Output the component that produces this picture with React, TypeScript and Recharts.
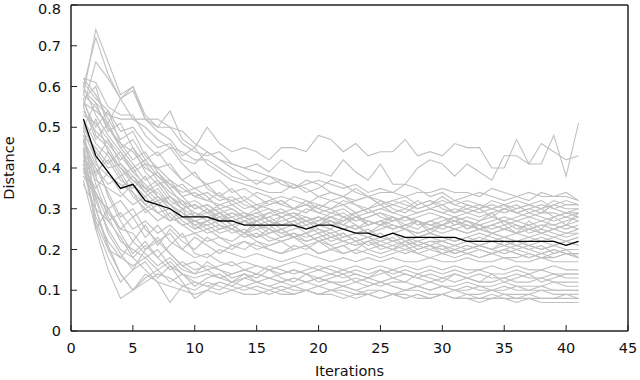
import { LineChart, Line, XAxis, YAxis } from 'recharts'

document.body.style.margin = '0'

const ITERATIONS = [
  1, 2, 3, 4, 5, 6, 7, 8, 9, 10, 11, 12, 13, 14, 15, 16, 17, 18, 19, 20,
  21, 22, 23, 24, 25, 26, 27, 28, 29, 30, 31, 32, 33, 34, 35, 36, 37, 38, 39, 40, 41,
]
const X_TICKS = [0, 5, 10, 15, 20, 25, 30, 35, 40, 45]
const Y_TICKS = [0, 0.1, 0.2, 0.3, 0.4, 0.5, 0.6, 0.7, 0.8]

// mean distance over all runs
const MEAN = [
  0.52, 0.43, 0.39, 0.35, 0.36, 0.32, 0.31, 0.30, 0.28, 0.28,
  0.28, 0.27, 0.27, 0.26, 0.26, 0.26, 0.26, 0.26, 0.25, 0.26,
  0.26, 0.25, 0.24, 0.24, 0.23, 0.24, 0.23, 0.23, 0.23, 0.23,
  0.23, 0.22, 0.22, 0.22, 0.22, 0.22, 0.22, 0.22, 0.22, 0.21, 0.22,
]

// individual runs (grey)
const RUNS: number[][] = [
  [0.58,0.74,0.66,0.58,0.60,0.53,0.50,0.54,0.47,0.45, 0.50,0.46,0.44,0.45,0.44,0.42,0.45,0.45,0.44,0.48, 0.47,0.44,0.46,0.43,0.44,0.44,0.47,0.43,0.44,0.43, 0.46,0.45,0.45,0.40,0.40,0.47,0.41,0.41,0.48,0.38,0.51],
  [0.55,0.66,0.62,0.57,0.59,0.52,0.52,0.50,0.49,0.46, 0.44,0.42,0.41,0.40,0.41,0.39,0.42,0.40,0.39,0.39, 0.38,0.42,0.39,0.37,0.41,0.36,0.36,0.40,0.42,0.41, 0.38,0.41,0.39,0.37,0.43,0.43,0.41,0.46,0.44,0.42,0.43],
  [0.60,0.72,0.63,0.57,0.52,0.50,0.47,0.45,0.44,0.42, 0.42,0.40,0.38,0.37,0.37,0.36,0.37,0.35,0.36,0.37, 0.36,0.35,0.36,0.34,0.35,0.34,0.33,0.34,0.34,0.35, 0.34,0.34,0.33,0.35,0.34,0.33,0.34,0.33,0.33,0.34,0.32],
  [0.62,0.61,0.55,0.53,0.53,0.48,0.45,0.46,0.42,0.41, 0.44,0.42,0.40,0.38,0.36,0.38,0.37,0.36,0.34,0.35, 0.37,0.36,0.34,0.33,0.34,0.34,0.36,0.35,0.33,0.34, 0.32,0.33,0.34,0.33,0.32,0.33,0.32,0.34,0.33,0.33,0.32],
  [0.56,0.54,0.51,0.57,0.60,0.52,0.49,0.47,0.43,0.45, 0.41,0.39,0.37,0.36,0.35,0.34,0.34,0.36,0.35,0.33, 0.34,0.33,0.32,0.33,0.31,0.32,0.33,0.31,0.32,0.31, 0.32,0.31,0.30,0.32,0.31,0.30,0.31,0.32,0.30,0.31,0.31],
  [0.50,0.56,0.53,0.52,0.52,0.52,0.50,0.50,0.46,0.44, 0.43,0.44,0.41,0.40,0.39,0.38,0.36,0.35,0.37,0.36, 0.34,0.33,0.35,0.33,0.32,0.31,0.32,0.30,0.31,0.33, 0.31,0.30,0.29,0.30,0.31,0.29,0.30,0.29,0.31,0.30,0.30],
  [0.58,0.55,0.50,0.46,0.44,0.40,0.38,0.36,0.33,0.34, 0.32,0.31,0.32,0.30,0.31,0.30,0.29,0.30,0.31,0.30, 0.29,0.30,0.28,0.29,0.30,0.29,0.28,0.29,0.30,0.29, 0.28,0.29,0.28,0.29,0.30,0.29,0.28,0.29,0.29,0.28,0.29],
  [0.54,0.49,0.46,0.42,0.45,0.39,0.36,0.37,0.33,0.30, 0.31,0.29,0.30,0.28,0.27,0.29,0.28,0.26,0.27,0.28, 0.27,0.26,0.28,0.27,0.26,0.27,0.28,0.27,0.26,0.26, 0.27,0.26,0.25,0.26,0.27,0.26,0.25,0.26,0.26,0.25,0.26],
  [0.47,0.41,0.38,0.36,0.34,0.31,0.33,0.30,0.28,0.29, 0.27,0.28,0.26,0.27,0.25,0.26,0.24,0.25,0.26,0.24, 0.25,0.23,0.24,0.25,0.23,0.24,0.22,0.23,0.24,0.23, 0.22,0.23,0.22,0.24,0.23,0.22,0.23,0.22,0.21,0.22,0.23],
  [0.52,0.46,0.43,0.38,0.40,0.35,0.34,0.31,0.29,0.27, 0.28,0.26,0.25,0.27,0.26,0.24,0.25,0.23,0.24,0.22, 0.23,0.24,0.22,0.23,0.21,0.22,0.23,0.21,0.22,0.22, 0.21,0.20,0.21,0.22,0.21,0.20,0.21,0.20,0.21,0.20,0.20],
  [0.44,0.39,0.42,0.37,0.35,0.38,0.33,0.31,0.32,0.28, 0.30,0.27,0.29,0.28,0.30,0.27,0.28,0.29,0.27,0.26, 0.28,0.27,0.29,0.26,0.27,0.28,0.26,0.27,0.25,0.26, 0.27,0.25,0.26,0.24,0.25,0.26,0.24,0.25,0.24,0.23,0.24],
  [0.60,0.53,0.48,0.44,0.40,0.42,0.38,0.35,0.36,0.33, 0.32,0.34,0.31,0.32,0.30,0.31,0.32,0.30,0.29,0.31, 0.30,0.32,0.31,0.29,0.30,0.31,0.30,0.32,0.30,0.31, 0.29,0.30,0.31,0.30,0.29,0.30,0.31,0.30,0.32,0.31,0.31],
  [0.50,0.44,0.40,0.41,0.37,0.34,0.36,0.32,0.30,0.31, 0.29,0.27,0.28,0.26,0.27,0.28,0.26,0.27,0.25,0.26, 0.27,0.25,0.26,0.24,0.25,0.26,0.25,0.24,0.25,0.24, 0.25,0.24,0.25,0.24,0.23,0.24,0.25,0.24,0.23,0.24,0.25],
  [0.56,0.50,0.54,0.46,0.42,0.44,0.39,0.36,0.34,0.35, 0.33,0.30,0.31,0.29,0.28,0.29,0.30,0.28,0.27,0.28, 0.26,0.27,0.28,0.26,0.27,0.25,0.26,0.27,0.26,0.25, 0.26,0.27,0.26,0.25,0.26,0.27,0.26,0.27,0.26,0.27,0.28],
  [0.42,0.37,0.35,0.33,0.36,0.31,0.29,0.30,0.27,0.25, 0.26,0.24,0.25,0.23,0.24,0.22,0.23,0.24,0.22,0.23, 0.21,0.22,0.23,0.21,0.22,0.21,0.20,0.21,0.22,0.21, 0.20,0.21,0.20,0.19,0.20,0.21,0.20,0.19,0.20,0.19,0.19],
  [0.57,0.48,0.45,0.40,0.37,0.35,0.32,0.33,0.30,0.28, 0.29,0.30,0.28,0.29,0.27,0.28,0.29,0.28,0.30,0.29, 0.28,0.29,0.27,0.28,0.29,0.28,0.27,0.28,0.29,0.28, 0.27,0.28,0.27,0.28,0.27,0.28,0.29,0.28,0.27,0.28,0.27],
  [0.48,0.45,0.41,0.44,0.39,0.36,0.33,0.31,0.29,0.26, 0.27,0.25,0.26,0.24,0.25,0.23,0.22,0.23,0.24,0.22, 0.23,0.22,0.21,0.22,0.23,0.22,0.21,0.22,0.21,0.20, 0.21,0.22,0.21,0.20,0.21,0.22,0.21,0.20,0.21,0.22,0.21],
  [0.53,0.51,0.47,0.43,0.39,0.41,0.37,0.34,0.32,0.30, 0.31,0.29,0.27,0.28,0.26,0.27,0.25,0.26,0.27,0.25, 0.24,0.25,0.26,0.24,0.23,0.24,0.25,0.23,0.24,0.23, 0.22,0.23,0.24,0.23,0.22,0.21,0.22,0.23,0.22,0.21,0.22],
  [0.45,0.40,0.36,0.38,0.33,0.30,0.32,0.28,0.26,0.27, 0.25,0.26,0.24,0.25,0.23,0.24,0.25,0.23,0.22,0.23, 0.24,0.22,0.21,0.22,0.20,0.21,0.22,0.20,0.21,0.20, 0.19,0.20,0.21,0.20,0.19,0.20,0.19,0.18,0.19,0.20,0.18],
  [0.59,0.56,0.49,0.51,0.45,0.41,0.40,0.37,0.35,0.33, 0.34,0.32,0.33,0.31,0.30,0.32,0.31,0.30,0.32,0.31, 0.30,0.31,0.29,0.30,0.31,0.29,0.30,0.29,0.30,0.29, 0.30,0.29,0.30,0.31,0.30,0.29,0.30,0.31,0.30,0.29,0.30],
  [0.40,0.35,0.39,0.34,0.31,0.33,0.29,0.27,0.28,0.26, 0.24,0.25,0.26,0.24,0.23,0.25,0.24,0.23,0.24,0.25, 0.23,0.24,0.22,0.23,0.24,0.22,0.23,0.22,0.21,0.22, 0.23,0.22,0.21,0.22,0.21,0.22,0.21,0.20,0.21,0.22,0.21],
  [0.55,0.47,0.51,0.45,0.41,0.37,0.39,0.35,0.31,0.32, 0.30,0.28,0.29,0.27,0.28,0.26,0.27,0.28,0.26,0.27, 0.28,0.26,0.25,0.27,0.26,0.25,0.26,0.25,0.27,0.26, 0.25,0.26,0.25,0.26,0.25,0.24,0.25,0.26,0.25,0.26,0.27],
  [0.38,0.33,0.30,0.32,0.28,0.30,0.27,0.29,0.26,0.24, 0.25,0.23,0.22,0.24,0.22,0.21,0.22,0.23,0.21,0.22, 0.20,0.21,0.22,0.20,0.21,0.20,0.19,0.20,0.21,0.19, 0.20,0.19,0.20,0.19,0.20,0.19,0.18,0.19,0.20,0.19,0.19],
  [0.51,0.43,0.39,0.35,0.38,0.34,0.31,0.33,0.30,0.31, 0.29,0.31,0.30,0.28,0.29,0.30,0.28,0.29,0.28,0.27, 0.29,0.28,0.27,0.28,0.29,0.27,0.28,0.27,0.26,0.27, 0.28,0.27,0.26,0.27,0.28,0.27,0.28,0.27,0.28,0.29,0.28],
  [0.46,0.52,0.44,0.40,0.36,0.33,0.35,0.31,0.28,0.27, 0.26,0.27,0.25,0.24,0.26,0.25,0.23,0.24,0.23,0.24, 0.22,0.23,0.24,0.23,0.22,0.23,0.21,0.22,0.23,0.22, 0.21,0.22,0.23,0.22,0.23,0.22,0.21,0.22,0.23,0.22,0.23],
  [0.62,0.58,0.52,0.47,0.49,0.43,0.40,0.41,0.37,0.35, 0.36,0.33,0.32,0.33,0.31,0.32,0.33,0.32,0.31,0.33, 0.32,0.31,0.32,0.33,0.31,0.32,0.31,0.30,0.31,0.32, 0.31,0.32,0.31,0.30,0.31,0.32,0.31,0.30,0.31,0.32,0.31],
  [0.36,0.30,0.27,0.29,0.25,0.27,0.24,0.26,0.23,0.24, 0.22,0.23,0.21,0.22,0.20,0.21,0.22,0.20,0.21,0.19, 0.20,0.21,0.19,0.20,0.19,0.20,0.21,0.19,0.20,0.19, 0.20,0.19,0.18,0.19,0.20,0.19,0.18,0.19,0.18,0.19,0.18],
  [0.49,0.42,0.47,0.41,0.38,0.35,0.37,0.33,0.31,0.29, 0.28,0.29,0.27,0.28,0.29,0.27,0.26,0.27,0.28,0.26, 0.27,0.26,0.25,0.26,0.27,0.26,0.25,0.24,0.25,0.26, 0.25,0.24,0.25,0.24,0.25,0.24,0.23,0.24,0.25,0.24,0.24],
  [0.61,0.57,0.54,0.49,0.50,0.46,0.43,0.45,0.41,0.38, 0.36,0.37,0.34,0.35,0.33,0.31,0.32,0.30,0.31,0.29, 0.30,0.28,0.29,0.30,0.28,0.27,0.28,0.26,0.27,0.28, 0.26,0.27,0.25,0.26,0.27,0.25,0.26,0.24,0.25,0.26,0.25],
  [0.43,0.38,0.44,0.39,0.34,0.29,0.31,0.27,0.30,0.25, 0.27,0.29,0.26,0.24,0.27,0.25,0.28,0.26,0.24,0.26, 0.25,0.28,0.26,0.24,0.26,0.28,0.25,0.27,0.24,0.26, 0.28,0.25,0.27,0.29,0.26,0.24,0.27,0.25,0.28,0.26,0.29],
  [0.57,0.60,0.50,0.45,0.47,0.42,0.44,0.40,0.37,0.39, 0.35,0.33,0.35,0.32,0.34,0.33,0.31,0.33,0.32,0.30, 0.32,0.33,0.31,0.30,0.32,0.30,0.29,0.31,0.32,0.30, 0.29,0.31,0.30,0.28,0.30,0.31,0.29,0.30,0.28,0.29,0.29],
  [0.41,0.34,0.29,0.25,0.28,0.23,0.26,0.22,0.20,0.23, 0.21,0.19,0.21,0.20,0.22,0.20,0.19,0.21,0.20,0.22, 0.21,0.19,0.20,0.22,0.21,0.20,0.22,0.21,0.20,0.21, 0.19,0.20,0.21,0.20,0.22,0.21,0.20,0.21,0.19,0.20,0.20],
  [0.45,0.25,0.15,0.08,0.10,0.14,0.12,0.11,0.10,0.09, 0.10,0.09,0.10,0.09,0.09,0.10,0.09,0.09,0.10,0.09, 0.09,0.08,0.09,0.09,0.08,0.09,0.09,0.08,0.08,0.09, 0.08,0.08,0.08,0.08,0.09,0.08,0.08,0.08,0.08,0.08,0.08],
  [0.50,0.30,0.20,0.14,0.10,0.13,0.15,0.12,0.14,0.12, 0.11,0.12,0.11,0.10,0.11,0.10,0.11,0.10,0.10,0.11, 0.10,0.10,0.09,0.10,0.10,0.09,0.10,0.10,0.09,0.09, 0.10,0.09,0.09,0.10,0.09,0.09,0.09,0.10,0.09,0.09,0.09],
  [0.43,0.32,0.25,0.20,0.18,0.15,0.12,0.07,0.11,0.10, 0.12,0.11,0.10,0.11,0.12,0.11,0.10,0.11,0.10,0.09, 0.10,0.11,0.10,0.09,0.10,0.09,0.08,0.09,0.08,0.09, 0.08,0.08,0.07,0.08,0.08,0.07,0.08,0.07,0.07,0.07,0.07],
  [0.47,0.36,0.28,0.22,0.20,0.18,0.20,0.16,0.12,0.08, 0.10,0.12,0.11,0.13,0.12,0.11,0.12,0.13,0.12,0.11, 0.12,0.11,0.10,0.11,0.12,0.11,0.10,0.11,0.10,0.11, 0.10,0.10,0.11,0.10,0.10,0.11,0.10,0.10,0.10,0.10,0.10],
  [0.41,0.28,0.22,0.18,0.16,0.18,0.15,0.17,0.14,0.13, 0.14,0.13,0.12,0.13,0.14,0.13,0.12,0.13,0.12,0.13, 0.12,0.12,0.13,0.12,0.11,0.12,0.12,0.11,0.12,0.11, 0.11,0.12,0.11,0.11,0.12,0.11,0.11,0.11,0.12,0.11,0.11],
  [0.52,0.42,0.33,0.27,0.22,0.19,0.16,0.18,0.15,0.14, 0.15,0.13,0.14,0.15,0.14,0.13,0.14,0.15,0.14,0.13, 0.14,0.13,0.14,0.13,0.12,0.13,0.14,0.13,0.12,0.13, 0.12,0.13,0.12,0.12,0.13,0.12,0.12,0.13,0.12,0.12,0.12],
  [0.39,0.34,0.27,0.23,0.18,0.21,0.18,0.15,0.17,0.15, 0.16,0.15,0.14,0.15,0.16,0.15,0.14,0.15,0.14,0.15, 0.14,0.15,0.14,0.13,0.14,0.15,0.14,0.13,0.14,0.13, 0.14,0.13,0.14,0.13,0.13,0.14,0.13,0.13,0.14,0.13,0.13],
  [0.48,0.38,0.30,0.25,0.24,0.20,0.22,0.19,0.16,0.17, 0.15,0.16,0.17,0.15,0.14,0.16,0.15,0.14,0.15,0.16, 0.15,0.14,0.15,0.14,0.15,0.14,0.15,0.14,0.15,0.14, 0.15,0.14,0.15,0.14,0.14,0.15,0.14,0.15,0.14,0.14,0.14],
  [0.44,0.30,0.21,0.14,0.10,0.12,0.14,0.13,0.11,0.12, 0.11,0.10,0.12,0.11,0.10,0.09,0.10,0.09,0.10,0.09, 0.10,0.09,0.08,0.09,0.08,0.09,0.08,0.09,0.08,0.09, 0.08,0.09,0.08,0.09,0.08,0.08,0.09,0.08,0.08,0.09,0.08],
  [0.46,0.40,0.34,0.28,0.30,0.25,0.22,0.24,0.20,0.18, 0.19,0.17,0.16,0.17,0.16,0.15,0.16,0.17,0.16,0.15, 0.16,0.15,0.16,0.15,0.16,0.15,0.16,0.15,0.16,0.15, 0.16,0.15,0.15,0.16,0.15,0.16,0.15,0.15,0.16,0.15,0.15],
  [0.42,0.26,0.18,0.12,0.15,0.20,0.23,0.19,0.16,0.14, 0.17,0.15,0.13,0.14,0.12,0.13,0.12,0.11,0.12,0.13, 0.12,0.11,0.12,0.11,0.12,0.11,0.10,0.11,0.10,0.11, 0.10,0.11,0.10,0.10,0.11,0.10,0.10,0.11,0.10,0.10,0.10],
  [0.40,0.27,0.20,0.18,0.22,0.26,0.21,0.25,0.22,0.20, 0.23,0.21,0.20,0.22,0.21,0.20,0.19,0.20,0.21,0.19, 0.20,0.19,0.20,0.19,0.18,0.19,0.20,0.19,0.18,0.19, 0.18,0.19,0.18,0.19,0.18,0.18,0.19,0.18,0.18,0.19,0.18],
  [0.37,0.25,0.30,0.24,0.19,0.22,0.18,0.21,0.24,0.19, 0.18,0.20,0.19,0.18,0.19,0.18,0.17,0.18,0.19,0.18, 0.17,0.18,0.17,0.18,0.17,0.18,0.17,0.17,0.18,0.17, 0.17,0.18,0.17,0.17,0.18,0.17,0.17,0.18,0.17,0.17,0.17],
  [0.45,0.33,0.24,0.19,0.15,0.17,0.13,0.16,0.14,0.11, 0.13,0.14,0.12,0.14,0.13,0.15,0.13,0.12,0.14,0.12, 0.13,0.14,0.12,0.13,0.15,0.13,0.12,0.14,0.13,0.12, 0.14,0.13,0.12,0.14,0.12,0.13,0.14,0.12,0.13,0.14,0.14],
]

const FONT = '"DejaVu Sans", sans-serif'
const AXIS = '#222'
const GREY = '#c0c0c0'

const rows = ITERATIONS.map((it, i) => {
  const row: Record<string, number> = { it, mean: MEAN[i] }
  RUNS.forEach((r, k) => { row['r' + k] = r[i] })
  return row
})

const fmtY = (v: number) => (v === 0 ? '0' : v.toFixed(1))

function YTitle(props: any) {
  const vb = props.viewBox
  const cx = vb.x + 13.5
  const cy = vb.y + vb.height / 2
  return (
    <text x={cx} y={cy} transform={`rotate(-90 ${cx} ${cy})`} textAnchor="middle"
      fontFamily={FONT} fontSize={14.5} fill="#111">Distance</text>
  )
}

function XTitle(props: any) {
  const vb = props.viewBox
  return (
    <text x={vb.x + vb.width / 2} y={vb.y + 45} textAnchor="middle"
      fontFamily={FONT} fontSize={14.5} fill="#111">Iterations</text>
  )
}

export default function App() {
  const tickStyle = { fontFamily: FONT, fontSize: 14.5, fill: '#111' }
  return (
    <LineChart width={640} height={380} data={rows}
      margin={{ top: 4, right: 11, bottom: 0, left: 0 }}>
      <XAxis xAxisId="b" dataKey="it" type="number" domain={[0, 45]} ticks={X_TICKS}
        height={49} tickSize={-6} tickMargin={18} tick={tickStyle}
        axisLine={{ stroke: AXIS, strokeWidth: 1.5 }} tickLine={{ stroke: AXIS }}
        label={<XTitle />} />
      <XAxis xAxisId="t" orientation="top" dataKey="it" type="number" domain={[0, 45]}
        ticks={X_TICKS} height={1} tickSize={-6} tick={false}
        axisLine={{ stroke: AXIS, strokeWidth: 1.5 }} tickLine={{ stroke: AXIS }} />
      <YAxis yAxisId="l" type="number" domain={[0, 0.8]} ticks={Y_TICKS} width={71}
        tickSize={-6} tickMargin={16} tick={tickStyle} tickFormatter={fmtY}
        axisLine={{ stroke: AXIS, strokeWidth: 1.5 }} tickLine={{ stroke: AXIS }}
        label={<YTitle />} />
      <YAxis yAxisId="r" orientation="right" type="number" domain={[0, 0.8]} ticks={Y_TICKS}
        width={1} tickSize={-6} tick={false}
        axisLine={{ stroke: AXIS, strokeWidth: 1.5 }} tickLine={{ stroke: AXIS }} />
      {RUNS.map((_, k) => (
        <Line key={k} xAxisId="b" yAxisId="l" dataKey={'r' + k} stroke={GREY}
          strokeWidth={1.1} dot={false} activeDot={false} isAnimationActive={false} />
      ))}
      <Line xAxisId="t" yAxisId="r" dataKey="mean" stroke="#000" strokeWidth={1.3}
        dot={false} activeDot={false} isAnimationActive={false} />
    </LineChart>
  )
}
